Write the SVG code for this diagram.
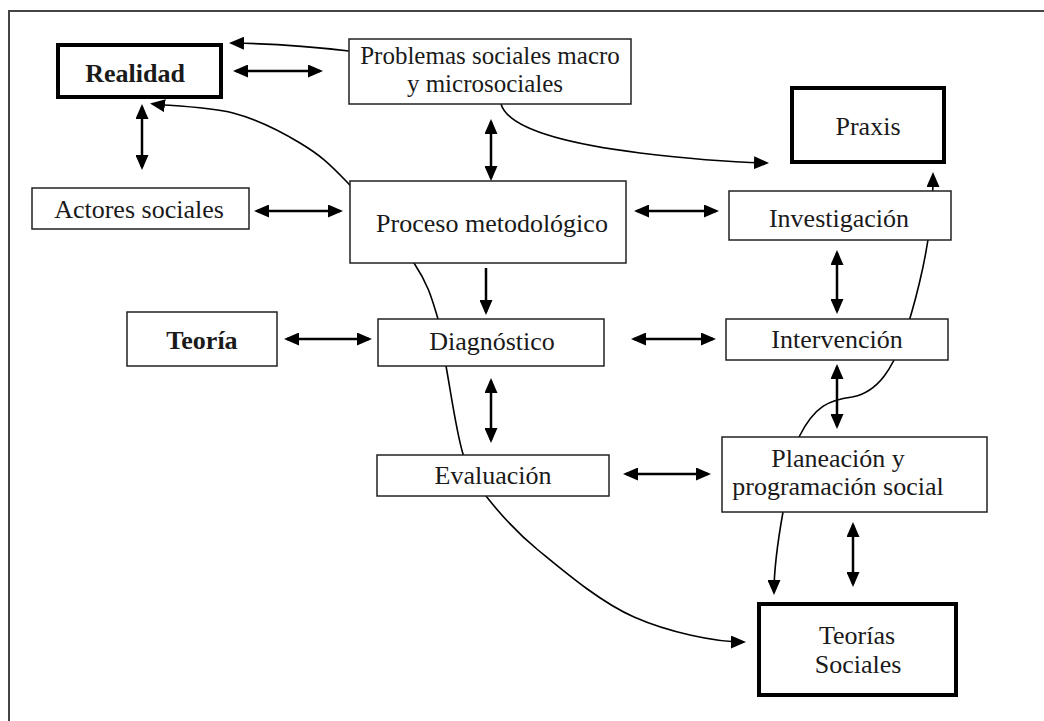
<svg xmlns="http://www.w3.org/2000/svg" width="1044" height="721" viewBox="0 0 1044 721">
  <style>
    .frame { fill: none; stroke: #444; stroke-width: 2; }
    .box { fill: #fff; stroke: #222; stroke-width: 1.5; }
    .box-strong { fill: #fff; stroke: #000; stroke-width: 4; }
    .label { font-family: "Liberation Serif", "Times New Roman", serif; font-size: 26px; fill: #1a1a1a; text-anchor: middle; }
    .small { font-size: 25px; }
    .bold { font-weight: bold; }
    .link { fill: none; stroke: #000; stroke-width: 2.5; }
    .curve { fill: none; stroke: #000; stroke-width: 1.6; }
  </style>
  <defs>
    <marker id="head" viewBox="0 0 15 13" refX="12" refY="6.5" markerWidth="15" markerHeight="13" markerUnits="userSpaceOnUse" orient="auto-start-reverse">
      <path d="M0,0 L15,6.5 L0,13 Z" fill="#000"/>
    </marker>
  </defs>

  <rect class="frame" x="9" y="11" width="1100" height="800"/>

  <g id="connectors">
    <!-- curved links -->
    <path class="curve" d="M349,51 Q290,44 232,43" marker-end="url(#head)"/>
    <path class="curve" d="M153,104 C163.8,105.5 208,106.5 233,113 C258,119.5 281,131.5 300,143 C319,154.5 328,162 347,182 C366,202 398.8,240.2 414,263 C429.2,285.8 432.7,301.8 438,319 C443.3,336.2 441.8,343.5 446,366 C450.2,388.5 456.3,432.3 463,454 C469.7,475.7 473.5,480 486,496 C498.5,512 513.3,529.8 538,550 C562.7,570.2 599.3,601.7 634,617 C668.7,632.3 715,642 743,642" marker-start="url(#head)" marker-end="url(#head)"/>
    <path class="curve" d="M501,104 C508,128 560,143 640,153 C690,159 730,162 766,163" marker-end="url(#head)"/>
    <path class="curve" d="M799,437 C815,405 830,400 852,397 C880,392 893,365 903,340 C915,305 926,260 930,225 C932,210 933,200 933,175" marker-end="url(#head)"/>
    <path class="curve" d="M783,512 C778,540 774,565 774,592" marker-end="url(#head)"/>

    <!-- straight links -->
    <line class="link" x1="236" y1="71" x2="320" y2="71" marker-start="url(#head)" marker-end="url(#head)"/>
    <line class="link" x1="142" y1="107" x2="142" y2="167" marker-start="url(#head)" marker-end="url(#head)"/>
    <line class="link" x1="491" y1="122" x2="491" y2="178" marker-start="url(#head)" marker-end="url(#head)"/>
    <line class="link" x1="257" y1="211" x2="340" y2="211" marker-start="url(#head)" marker-end="url(#head)"/>
    <line class="link" x1="637" y1="211" x2="716" y2="211" marker-start="url(#head)" marker-end="url(#head)"/>
    <line class="link" x1="486" y1="268" x2="486" y2="312" marker-end="url(#head)"/>
    <line class="link" x1="287" y1="339" x2="369" y2="339" marker-start="url(#head)" marker-end="url(#head)"/>
    <line class="link" x1="634" y1="339" x2="713" y2="339" marker-start="url(#head)" marker-end="url(#head)"/>
    <line class="link" x1="837" y1="253" x2="837" y2="311" marker-start="url(#head)" marker-end="url(#head)"/>
    <line class="link" x1="491" y1="381" x2="491" y2="440" marker-start="url(#head)" marker-end="url(#head)"/>
    <line class="link" x1="837" y1="367" x2="837" y2="426" marker-start="url(#head)" marker-end="url(#head)"/>
    <line class="link" x1="626" y1="474" x2="708" y2="474" marker-start="url(#head)" marker-end="url(#head)"/>
    <line class="link" x1="853" y1="525" x2="853" y2="584" marker-start="url(#head)" marker-end="url(#head)"/>
  </g>

  <g id="realidad">
    <rect class="box-strong" x="58" y="45" width="163" height="52"/>
    <text class="label bold" x="135" y="82">Realidad</text>
  </g>
  <g id="problemas">
    <rect class="box" x="349" y="39" width="282" height="65"/>
    <text class="label small" x="490" y="64">Problemas sociales macro</text>
    <text class="label small" x="485" y="92">y microsociales</text>
  </g>
  <g id="praxis">
    <rect class="box-strong" x="792" y="88" width="152" height="74"/>
    <text class="label" x="868" y="135">Praxis</text>
  </g>
  <g id="actores">
    <rect class="box" x="32" y="188" width="217" height="41"/>
    <text class="label" x="139" y="218">Actores sociales</text>
  </g>
  <g id="proceso">
    <rect class="box" x="350" y="181" width="276" height="82"/>
    <text class="label" x="492" y="232">Proceso metodológico</text>
  </g>
  <g id="investigacion">
    <rect class="box" x="729" y="191" width="222" height="49"/>
    <text class="label" x="839" y="227">Investigación</text>
  </g>
  <g id="teoria">
    <rect class="box" x="127" y="312" width="150" height="54"/>
    <text class="label bold" x="202" y="349">Teoría</text>
  </g>
  <g id="diagnostico">
    <rect class="box" x="378" y="319" width="226" height="47"/>
    <text class="label" x="492" y="350">Diagnóstico</text>
  </g>
  <g id="intervencion">
    <rect class="box" x="726" y="319" width="222" height="41"/>
    <text class="label" x="837" y="348">Intervención</text>
  </g>
  <g id="evaluacion">
    <rect class="box" x="377" y="455" width="232" height="41"/>
    <text class="label" x="493" y="484">Evaluación</text>
  </g>
  <g id="planeacion">
    <rect class="box" x="722" y="437" width="265" height="75"/>
    <text class="label" x="838" y="467">Planeación y</text>
    <text class="label" x="838" y="495">programación social</text>
  </g>
  <g id="teorias-sociales">
    <rect class="box-strong" x="759" y="604" width="197" height="91"/>
    <text class="label" x="857" y="644">Teorías</text>
    <text class="label" x="858" y="673">Sociales</text>
  </g>
</svg>
